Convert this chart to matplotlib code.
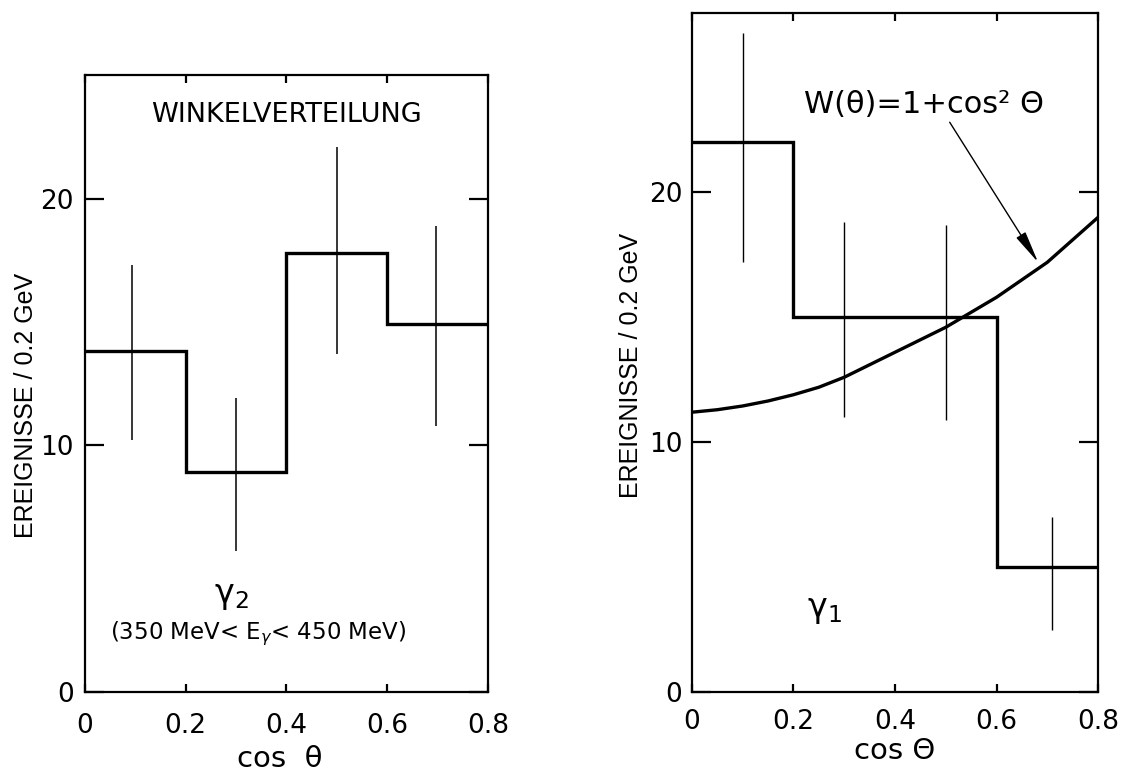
import matplotlib

matplotlib.use("Agg")
import matplotlib.pyplot as plt

# bin edges in cos(theta)
edges = [0.0, 0.2, 0.4, 0.6, 0.8]
tick_pos = [0.0, 0.2, 0.4, 0.6, 0.8]
tick_labels = ["0", "0.2", "0.4", "0.6", "0.8"]

# gamma_2 panel (left)
g2_counts = [13.8, 8.9, 17.8, 14.9]
g2_err_x = [0.093, 0.30, 0.50, 0.697]
g2_err_lo = [10.2, 5.7, 13.7, 10.8]
g2_err_hi = [17.3, 11.9, 22.1, 18.9]

# gamma_1 panel (right)
g1_counts = [22.0, 15.0, 15.0, 5.0]
g1_err_x = [0.10, 0.30, 0.50, 0.71]
g1_err_lo = [17.2, 11.0, 10.9, 2.5]
g1_err_hi = [26.4, 18.8, 18.7, 7.0]

# W(theta) = 1 + cos^2 theta curve
w_x = [0.0, 0.05, 0.1, 0.15, 0.2, 0.25, 0.3, 0.35, 0.4,
       0.45, 0.5, 0.55, 0.6, 0.65, 0.7, 0.75, 0.8]
w_y = [11.2, 11.3, 11.45, 11.65, 11.9, 12.2, 12.6, 13.1, 13.6,
       14.1, 14.6, 15.2, 15.8, 16.5, 17.2, 18.1, 19.0]

ylabel = "EREIGNISSE / 0.2 GeV"
NARROW = ["Liberation Sans", "DejaVu Sans"]


def style_axes(ax, ytop, xpad, ypad):
    ax.set_xlim(0, 0.8)
    ax.set_ylim(0, ytop)
    ax.set_xticks(tick_pos)
    ax.set_xticklabels(tick_labels)
    ax.set_yticks([0, 10, 20])
    ax.set_yticklabels(["0", "10", "20"])
    for s in ax.spines.values():
        s.set_linewidth(1.6)
    ax.tick_params(axis="y", direction="in", left=True, right=True,
                   length=14, width=1.6, labelsize=19, pad=ypad)
    ax.tick_params(axis="x", direction="in", top=True, bottom=True,
                   length=6, width=1.6, labelsize=19, pad=xpad)


plt.rcParams["font.family"] = ["DejaVu Sans"]
fig = plt.figure(figsize=(11.21, 7.73), dpi=100)

# left panel
ax1 = fig.add_axes([0.0758, 0.1048, 0.3595, 0.798])
style_axes(ax1, 25.0, 15, 8)
ax1.stairs(g2_counts, edges, color="black", linewidth=2.4, baseline=None)
ax1.vlines(g2_err_x, g2_err_lo, g2_err_hi, color="black", linewidth=1.1)
ax1.text(0.40, 23.4, "WINKELVERTEILUNG", fontsize=19.5, ha="center", va="center")
ax1.text(0.29, 3.9, "γ$_2$", fontsize=24, ha="center", va="center")
ax1.text(0.343, 2.35, "(350 MeV< E$_{γ}$< 450 MeV)", fontsize=16.5,
         ha="center", va="center")
ax1.set_ylabel(ylabel, fontsize=18, family=NARROW)
ax1.yaxis.set_label_coords(-0.117, 0.465)
ax1.set_xlabel("cos  θ", fontsize=21)
ax1.xaxis.set_label_coords(0.484, -0.086)

# right panel
ax2 = fig.add_axes([0.6173, 0.1048, 0.3622, 0.879])
style_axes(ax2, 27.2, 12, 7)
ax2.stairs(g1_counts, edges, color="black", linewidth=2.4, baseline=None)
ax2.vlines(g1_err_x, g1_err_lo, g1_err_hi, color="black", linewidth=1.0)
ax2.plot(w_x, w_y, color="black", linewidth=2.4)
ax2.annotate("W(θ)=1+cos² Θ", xy=(0.682, 17.2), xytext=(0.457, 23.5),
             fontsize=22, ha="center", va="center",
             arrowprops=dict(arrowstyle="-|>,head_length=0.9,head_width=0.15",
                             color="black", linewidth=1.0,
                             shrinkA=0, shrinkB=0,
                             relpos=(0.6, 0.0)))
ax2.text(0.26, 3.3, "γ$_1$", fontsize=24, ha="center", va="center")
ax2.set_ylabel(ylabel, fontsize=18, family=NARROW)
ax2.yaxis.set_label_coords(-0.121, 0.48)
ax2.set_xlabel("cos Θ", fontsize=21)
ax2.xaxis.set_label_coords(0.5, -0.066)

fig.savefig("out.png", dpi=100)
